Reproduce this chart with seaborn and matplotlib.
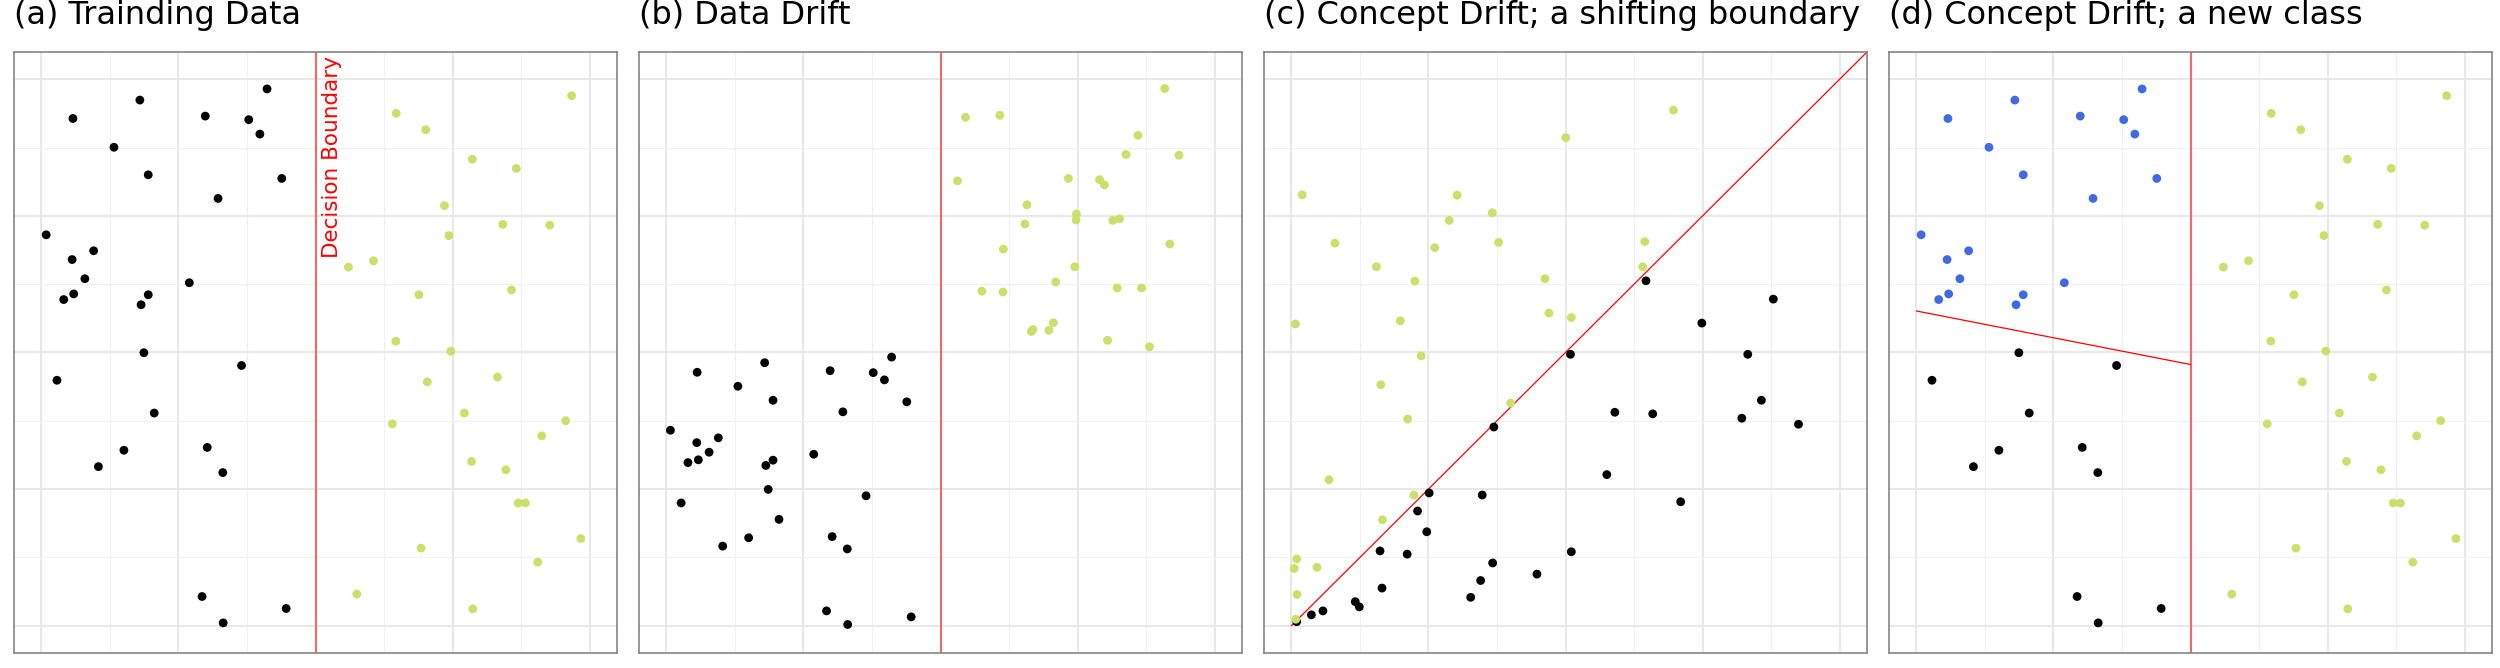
import matplotlib
matplotlib.use("Agg")
import matplotlib.pyplot as plt
from matplotlib.ticker import MultipleLocator
import numpy as np
import pandas as pd
import seaborn as sns

# ---- data (x, y in 0..1) ----
# (a) training data, class "old"
a_old_x = [0.0575, 0.1796, 0.2989, 0.3782, 0.3985, 0.4116, 0.1324, 0.1949, 0.4385, 0.3222,
           0.0087, 0.0953, 0.0560, 0.0793, 0.0589, 0.0407, 0.1949, 0.1818, 0.2698, 0.1869,
           0.3651, 0.0284, 0.2058, 0.1505, 0.3025, 0.1040, 0.3309, 0.2931, 0.4465, 0.3316]
a_old_y = [0.9283, 0.9620, 0.9327, 0.9261, 0.8998, 0.9824, 0.8756, 0.8252, 0.8186, 0.7820,
           0.7154, 0.6862, 0.6701, 0.6350, 0.6072, 0.5969, 0.6057, 0.5874, 0.6277, 0.4996,
           0.4762, 0.4492, 0.3892, 0.3211, 0.3263, 0.2911, 0.2802, 0.0534, 0.0315, 0.0051]
# (a) training data, class "green"
a_new_x = [0.6473, 0.7011, 0.9673, 0.7862, 0.8662, 0.7353, 0.8415, 0.9273, 0.7433, 0.5600,
           0.6058, 0.6887, 0.8575, 0.6465, 0.7469, 0.7040, 0.8320, 0.7716, 0.6400, 0.9564,
           0.9127, 0.7847, 0.8473, 0.8698, 0.8829, 0.9840, 0.6924, 0.9055, 0.5753, 0.7869]
a_new_y = [0.9378, 0.9078, 0.9700, 0.8537, 0.8369, 0.7688, 0.7345, 0.7330, 0.7140, 0.6562,
           0.6679, 0.6057, 0.6145, 0.5208, 0.5026, 0.4462, 0.4550, 0.3892, 0.3694, 0.3753,
           0.3475, 0.3007, 0.2853, 0.2246, 0.2246, 0.1595, 0.1419, 0.1163, 0.0578, 0.0307]

# (b) data drift
b_old_x = [0.0561, 0.1792, 0.2986, 0.3773, 0.3977, 0.4108, 0.1304, 0.1945, 0.4385, 0.3219,
           0.0073, 0.0947, 0.0554, 0.0779, 0.0583, 0.0393, 0.1945, 0.1814, 0.2688, 0.1857,
           0.3642, 0.0269, 0.2054, 0.1500, 0.3023, 0.1027, 0.3299, 0.2921, 0.4465, 0.3307]
b_old_y = [0.4638, 0.4813, 0.4667, 0.4631, 0.4499, 0.4916, 0.4382, 0.4126, 0.4097, 0.3914,
           0.3577, 0.3438, 0.3350, 0.3175, 0.3036, 0.2985, 0.3029, 0.2933, 0.3138, 0.2495,
           0.2377, 0.2246, 0.1946, 0.1609, 0.1631, 0.1456, 0.1405, 0.0271, 0.0161, 0.0022]
b_new_x = [0.5455, 0.6082, 0.9090, 0.8602, 0.8383, 0.9352, 0.5310, 0.7334, 0.7902, 0.7990,
           0.6577, 0.7480, 0.7473, 0.6540, 0.8143, 0.8267, 0.9184, 0.6147, 0.7451, 0.7101,
           0.5754, 0.6140, 0.8223, 0.8667, 0.7058, 0.6657, 0.6686, 0.6977, 0.8048, 0.8813]
b_new_y = [0.9305, 0.9342, 0.9832, 0.8976, 0.8625, 0.8610, 0.8142, 0.8186, 0.8164, 0.8069,
           0.7703, 0.7535, 0.7425, 0.7352, 0.7418, 0.7447, 0.6986, 0.6891, 0.6569, 0.6291,
           0.6123, 0.6108, 0.6181, 0.6181, 0.5545, 0.5384, 0.5421, 0.5406, 0.5223, 0.5106]

# (c) concept drift, shifting boundary
c_new_x = [0.0197, 0.6970, 0.5004, 0.3023, 0.3664, 0.2877, 0.0794, 0.3780, 0.2615, 0.6446,
           0.1551, 0.6409, 0.2251, 0.4625, 0.0073, 0.1988, 0.4698, 0.5106, 0.2367, 0.1631,
           0.2119, 0.3999, 0.0685, 0.2236, 0.1661, 0.0095, 0.0051, 0.0466, 0.0102, 0.0080]
c_new_y = [0.7886, 0.9437, 0.8932, 0.7879, 0.7557, 0.7418, 0.7001, 0.7015, 0.6920, 0.7030,
           0.6569, 0.6569, 0.6306, 0.6350, 0.5523, 0.5582, 0.5721, 0.5640, 0.4938, 0.4411,
           0.3782, 0.4075, 0.2670, 0.2392, 0.1939, 0.1222, 0.1046, 0.1068, 0.0571, 0.0117]
c_old_x = [0.6468, 0.8791, 0.7487, 0.5091, 0.8325, 0.8573, 0.5900, 0.6591, 0.8216, 0.9250,
           0.3693, 0.5754, 0.7101, 0.2513, 0.3481, 0.2301, 0.2469, 0.1617, 0.2112, 0.5106,
           0.3671, 0.4479, 0.3452, 0.1653, 0.3270, 0.1165, 0.1238, 0.0575, 0.0364, 0.0095]
c_old_y = [0.6313, 0.5977, 0.5538, 0.4967, 0.4967, 0.4126, 0.3906, 0.3877, 0.3797, 0.3687,
           0.3636, 0.2765, 0.2268, 0.2429, 0.2392, 0.2099, 0.1719, 0.1368, 0.1309, 0.1353,
           0.1148, 0.0944, 0.0827, 0.0688, 0.0519, 0.0439, 0.0344, 0.0271, 0.0198, 0.0073]
c_line_x = [0.0, 1.05]
c_line_y = [0.0, 1.05]

# (d) same points as (a); the upper-left group becomes a new class
d_old_class = ["new"] * 19 + ["old"] * 11
d_seg_x = [0.0, 0.5]
d_seg_y = [0.576, 0.478]

titles = ["(a) Trainding Data", "(b) Data Drift",
          "(c) Concept Drift; a shifting boundary", "(d) Concept Drift; a new class"]

palette = {"old": "black", "green": "#c9e06a", "new": "#4169e1"}

sns.set_theme(style="white")
plt.rcParams['font.family'] = ['DejaVu Sans']

W, H = 2500, 668
fig = plt.figure(figsize=(W / 100, H / 100), dpi=100)

lefts = [14, 639, 1264, 1889]
axes = []
for l in lefts:
    ax = fig.add_axes([l / W, 15 / H, 603 / W, 601 / H])
    axes.append(ax)


def make_df(x1, y1, lab1, x2, y2, lab2):
    df1 = pd.DataFrame({"x": x1, "y": y1, "cls": lab1})
    df2 = pd.DataFrame({"x": x2, "y": y2, "cls": lab2})
    return pd.concat([df1, df2], ignore_index=True)


dfs = [
    make_df(a_old_x, a_old_y, "old", a_new_x, a_new_y, "green"),
    make_df(b_old_x, b_old_y, "old", b_new_x, b_new_y, "green"),
    make_df(c_old_x, c_old_y, "old", c_new_x, c_new_y, "green"),
    make_df(a_old_x, a_old_y, d_old_class, a_new_x, a_new_y, "green"),
]

for i, (ax, df) in enumerate(zip(axes, dfs)):
    ax.set_xlim(-0.05, 1.05)
    ax.set_ylim(-0.05, 1.05)
    ax.xaxis.set_major_locator(MultipleLocator(0.25))
    ax.yaxis.set_major_locator(MultipleLocator(0.25))
    ax.xaxis.set_minor_locator(MultipleLocator(0.125))
    ax.yaxis.set_minor_locator(MultipleLocator(0.125))
    ax.grid(which="major", color="#e8e8e8", lw=1.5)
    ax.grid(which="minor", color="#f0f0f0", lw=0.8)
    ax.set_axisbelow(True)
    ax.tick_params(which="both", length=0, labelbottom=False, labelleft=False)
    for s in ax.spines.values():
        s.set_color("#858585")
        s.set_linewidth(1.2)

    sns.scatterplot(data=df, x="x", y="y", hue="cls", palette=palette, s=40,
                    linewidth=0, ax=ax, legend=False, zorder=3)
    ax.set_xlabel("")
    ax.set_ylabel("")

    fig.text(lefts[i] / W, 1 - 24 / H, titles[i], fontsize=23, color="black",
             ha="left", va="baseline")

# boundaries
for ax in (axes[0], axes[1], axes[3]):
    ax.axvline(0.5, color="#ff0000", alpha=0.55, lw=1.5, zorder=2)
axes[0].text(0.512, 1.042, "Decision Boundary", rotation=90, color="red", fontsize=15.5,
             ha="left", va="top")
sns.lineplot(x=c_line_x, y=c_line_y, color="red", lw=0.9, ax=axes[2])
sns.lineplot(x=d_seg_x, y=d_seg_y, color="red", lw=0.9, ax=axes[3])
for ax in axes:
    ax.set_xlim(-0.05, 1.05)
    ax.set_ylim(-0.05, 1.05)

fig.savefig("out.png", dpi=100)
